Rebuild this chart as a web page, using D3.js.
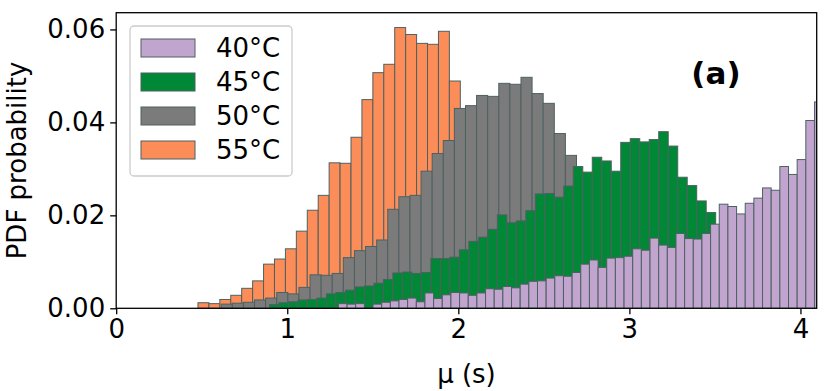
<!DOCTYPE html>
<html>
<head>
<meta charset="utf-8">
<script src="https://cdn.jsdelivr.net/npm/d3@7"></script>
<style>
  html, body { margin: 0; padding: 0; background: #ffffff; }
  svg text { font-family: "DejaVu Sans", sans-serif; }
</style>
</head>
<body>
<svg id="chart" width="830" height="391"></svg>
<script>
// ---- data ----
const seriesNames = ["40°C", "45°C", "50°C", "55°C"];
const seriesColors = ["#c2a5cf", "#008837", "#7b7b7b", "#fc8d59"];

// bin start (s) and bin width (s) of each histogram
const binStart40 = 1.299, binWidth40 = 0.0506;
const binStart45 = 0.896, binWidth45 = 0.0555;
const binStart50 = 0.614, binWidth50 = 0.0649;
const binStart55 = 0.478, binWidth55 = 0.0639;

const pdf40 = [0.0010,0.0009,0.0010,0.0000,0.0009,0.0013,0.0016,0.0019,0.0022,0.0014,
               0.0033,0.0021,0.0029,0.0034,0.0033,0.0028,0.0033,0.0042,0.0041,0.0047,
               0.0044,0.0052,0.0058,0.0059,0.0065,0.0070,0.0069,0.0077,0.0095,0.0104,
               0.0088,0.0108,0.0109,0.0112,0.0128,0.0125,0.0151,0.0136,0.0131,0.0161,
               0.0150,0.0149,0.0161,0.0181,0.0224,0.0219,0.0203,0.0226,0.0237,0.0259,
               0.0254,0.0305,0.0288,0.0320,0.0404,0.0444];
const pdf45 = [0.0008,0.0012,0.0014,0.0018,0.0019,0.0022,0.0031,0.0034,0.0039,0.0046,
               0.0048,0.0054,0.0062,0.0076,0.0078,0.0075,0.0077,0.0107,0.0107,0.0110,
               0.0126,0.0144,0.0153,0.0170,0.0201,0.0184,0.0188,0.0210,0.0246,0.0247,
               0.0239,0.0263,0.0305,0.0293,0.0325,0.0317,0.0295,0.0357,0.0365,0.0358,
               0.0363,0.0380,0.0349,0.0282,0.0264,0.0231,0.0206];
const pdf50 = [0.0009,0.0011,0.0013,0.0018,0.0022,0.0034,0.0031,0.0045,0.0072,0.0071,
               0.0075,0.0109,0.0124,0.0133,0.0147,0.0213,0.0240,0.0243,0.0295,0.0333,
               0.0361,0.0430,0.0436,0.0458,0.0456,0.0484,0.0482,0.0497,0.0462,0.0441,
               0.0376,0.0329];
const pdf55 = [0.0012,0.0010,0.0019,0.0028,0.0043,0.0059,0.0095,0.0106,0.0128,0.0166,
               0.0211,0.0243,0.0313,0.0312,0.0368,0.0449,0.0507,0.0525,0.0604,0.0589,
               0.0570,0.0568,0.0596,0.0489];

const xTicks = [0, 1, 2, 3, 4];
const yTicks = [0.00, 0.02, 0.04, 0.06];
const xDomain = [0, 4.095];
const yDomain = [0, 0.0636];
const xLabel = "μ (s)";
const yLabel = "PDF probability";
const panelLabel = "(a)";

// ---- layout ----
const plot = { left: 116.2, right: 816.7, top: 12.7, bottom: 308.3 };
const fontSize = 26;
const edgeColor = "#4d6161";

const svg = d3.select("#chart");
const x = d3.scaleLinear().domain(xDomain).range([plot.left, plot.right]);
const y = d3.scaleLinear().domain(yDomain).range([plot.bottom, plot.top]);

svg.append("defs").append("clipPath").attr("id", "clip")
  .append("rect")
  .attr("x", plot.left).attr("y", plot.top)
  .attr("width", plot.right - plot.left).attr("height", plot.bottom - plot.top);

function toBins(start, width, values) {
  return values.map((v, i) => ({ x0: start + i * width, x1: start + (i + 1) * width, v }));
}

const series = [
  { name: seriesNames[0], color: seriesColors[0], bins: toBins(binStart40, binWidth40, pdf40) },
  { name: seriesNames[1], color: seriesColors[1], bins: toBins(binStart45, binWidth45, pdf45) },
  { name: seriesNames[2], color: seriesColors[2], bins: toBins(binStart50, binWidth50, pdf50) },
  { name: seriesNames[3], color: seriesColors[3], bins: toBins(binStart55, binWidth55, pdf55) }
];

// draw 55 first, 40 last (40 on top)
const gBars = svg.append("g").attr("clip-path", "url(#clip)");
series.slice().reverse().forEach(s => {
  gBars.append("g").selectAll("rect")
    .data(s.bins.filter(b => b.v > 0))
    .join("rect")
    .attr("x", b => x(b.x0))
    .attr("width", b => x(b.x1) - x(b.x0))
    .attr("y", b => y(b.v))
    .attr("height", b => y(0) - y(b.v))
    .attr("fill", s.color)
    .attr("stroke", edgeColor)
    .attr("stroke-width", 1);
});

// axes
const xAxis = svg.append("g")
  .attr("transform", `translate(0,${plot.bottom})`)
  .call(d3.axisBottom(x).tickValues(xTicks).tickFormat(d3.format("d")).tickSize(6).tickPadding(5));
const yAxis = svg.append("g")
  .attr("transform", `translate(${plot.left},0)`)
  .call(d3.axisLeft(y).tickValues(yTicks).tickFormat(d3.format(".2f")).tickSize(6).tickPadding(5));
[xAxis, yAxis].forEach(a => {
  a.select(".domain").remove();
  a.selectAll("line").attr("stroke", "#000").attr("stroke-width", 1.3);
  a.selectAll("text").attr("font-size", fontSize).attr("fill", "#000")
    .style("font-family", "DejaVu Sans, sans-serif");
});

// frame
svg.append("rect")
  .attr("x", plot.left).attr("y", plot.top)
  .attr("width", plot.right - plot.left).attr("height", plot.bottom - plot.top)
  .attr("fill", "none").attr("stroke", "#000").attr("stroke-width", 1.3);

// axis labels
svg.append("text")
  .attr("x", (plot.left + plot.right) / 2).attr("y", 383)
  .attr("text-anchor", "middle").attr("font-size", fontSize)
  .text(xLabel);
svg.append("text")
  .attr("transform", `translate(26,${(plot.top + plot.bottom) / 2}) rotate(-90)`)
  .attr("text-anchor", "middle").attr("font-size", fontSize)
  .text(yLabel);

// panel label
svg.append("text")
  .attr("x", 716).attr("y", 84)
  .attr("text-anchor", "middle").attr("font-size", 31).attr("font-weight", "bold")
  .text(panelLabel);

// legend
const leg = svg.append("g");
leg.append("rect")
  .attr("x", 130).attr("y", 26).attr("width", 162).attr("height", 150)
  .attr("rx", 4).attr("fill", "#fff").attr("fill-opacity", 0.8)
  .attr("stroke", "#cccccc").attr("stroke-width", 1.3);
series.forEach((s, i) => {
  const cy = 48 + i * 34;
  leg.append("rect")
    .attr("x", 141).attr("y", cy - 9).attr("width", 54).attr("height", 18)
    .attr("fill", s.color).attr("stroke", edgeColor).attr("stroke-width", 1);
  leg.append("text")
    .attr("x", 216).attr("y", cy + 9)
    .attr("font-size", fontSize).attr("fill", "#000")
    .text(s.name);
});
</script>
</body>
</html>
